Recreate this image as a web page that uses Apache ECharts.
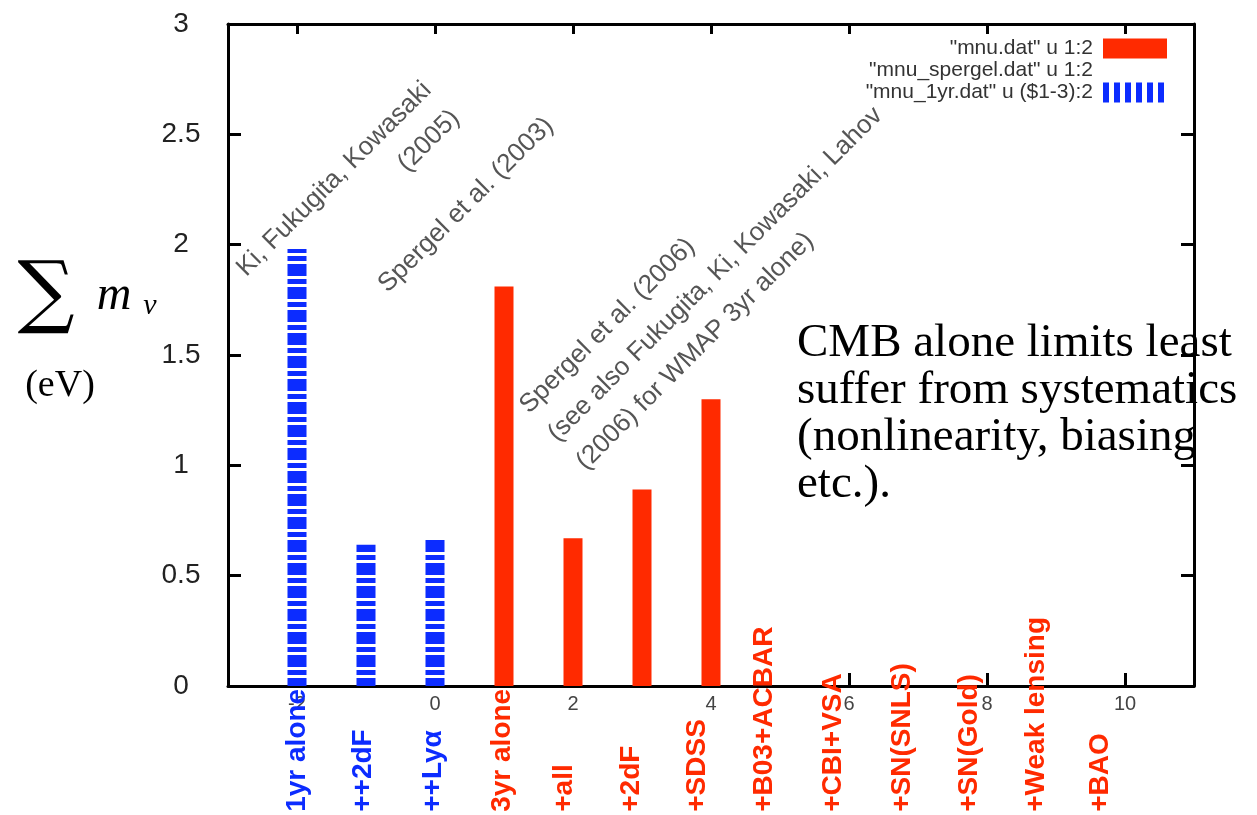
<!DOCTYPE html>
<html>
<head>
<meta charset="utf-8">
<title>Sum of neutrino masses</title>
<script src="https://cdn.jsdelivr.net/npm/echarts@6/dist/echarts.min.js"></script>
<style>
  html, body { margin: 0; padding: 0; background: #fff; }
  #chart { width: 1257px; height: 815px; }
</style>
</head>
<body>
<div id="chart"></div>
<script>
// values
const redX = [1, 2, 3, 4];
const redValues = [1.81, 0.67, 0.89, 1.3];
const blueX = [-2, -1, 0];
const blueValues = [1.98, 0.64, 0.67];

const xTicks = [-2, 0, 2, 4, 6, 8, 10];
const yTicks = [0, 0.5, 1, 1.5, 2, 2.5, 3];

const blueLabelX = [-2, -1.04, -0.03];
const blueLabels = ["1yr alone", "++2dF", "++Lyα"];
const redLabelX = [0.98, 1.88, 2.85, 3.8, 4.77, 5.77, 6.77, 7.74, 8.72, 9.64];
const redLabels = ["3yr alone", "+all", "+2dF", "+SDSS", "+B03+ACBAR", "+CBI+VSA",
  "+SN(SNLS)", "+SN(Gold)", "+Weak lensing", "+BAO"];

const seriesNames = ['"mnu.dat" u 1:2', '"mnu_spergel.dat" u 1:2', '"mnu_1yr.dat" u ($1-3):2'];

const RED = "#ff2a00";
const BLUE = "#0c2cff";
const LABEL_Y = -0.57; // where the rotated case labels start, below the axis

// striped fill like gnuplot's pattern
function stripes(w, h, fillRects) {
  const c = document.createElement("canvas");
  c.width = w;
  c.height = h;
  const ctx = c.getContext("2d");
  ctx.fillStyle = "#fff";
  ctx.fillRect(0, 0, w, h);
  ctx.fillStyle = BLUE;
  fillRects.forEach((r) => ctx.fillRect(r[0], r[1], r[2], r[3]));
  return c;
}
const barPattern = { image: stripes(4, 23, [[0, 3, 4, 5], [0, 11, 4, 12]]), repeat: "repeat" };
const legendPattern = { image: stripes(11, 4, [[0, 0, 6, 4]]), repeat: "repeat" };

const pairs = (xs, ys) => xs.map((x, i) => [x, ys[i]]);
const labelData = (xs, names) => xs.map((x, i) => ({ value: [x, LABEL_Y], name: names[i] }));

const caseLabel = (color) => ({
  show: true,
  formatter: "{b}",
  position: "inside",
  rotate: 90,
  align: "left",
  verticalAlign: "middle",
  color: color,
  opacity: 1,
  fontSize: 28,
  fontWeight: "bold",
  fontFamily: "Liberation Sans, Arial, sans-serif",
});

const annoFont = {
  fill: "#555",
  fontSize: 26,
  fontFamily: "Liberation Sans, Arial, sans-serif",
  lineHeight: 40,
};

const frame = { onZero: false, lineStyle: { color: "#000", width: 3 } };
const tickStyle = { color: "#000", width: 3 };

const chart = echarts.init(document.getElementById("chart"));
chart.setOption({
  backgroundColor: "#fff",
  animation: false,
  grid: { left: 228, right: 63, top: 24, bottom: 129 },
  legend: {
    orient: "vertical",
    right: 85,
    top: 33,
    align: "right",
    itemWidth: 64,
    itemHeight: 20,
    itemGap: 1,
    textStyle: { fontSize: 21, color: "#333", fontFamily: "Liberation Sans, Arial, sans-serif", padding: [0, 5, 0, 0] },
    data: [
      { name: seriesNames[0], icon: "rect" },
      { name: seriesNames[1], icon: "rect", itemStyle: { color: "rgba(0,0,0,0)" } },
      { name: seriesNames[2], icon: "rect", itemStyle: { color: legendPattern } },
    ],
  },
  xAxis: [
    {
      type: "value",
      min: -3,
      max: 11,
      axisLine: frame,
      axisTick: { inside: true, length: 13, customValues: xTicks, lineStyle: tickStyle },
      axisLabel: { customValues: xTicks, fontSize: 20, color: "#444", margin: 8, fontFamily: "Liberation Sans, Arial, sans-serif" },
      splitLine: { show: false },
    },
    {
      type: "value",
      position: "top",
      min: -3,
      max: 11,
      axisLine: frame,
      axisTick: { inside: true, length: 10, customValues: xTicks, lineStyle: tickStyle },
      axisLabel: { show: false },
      splitLine: { show: false },
    },
  ],
  yAxis: [
    {
      type: "value",
      min: 0,
      max: 3,
      interval: 0.5,
      axisLine: Object.assign({ show: true }, frame),
      axisTick: { show: true, inside: true, length: 13, lineStyle: tickStyle },
      axisLabel: {
        fontSize: 28,
        color: "#222",
        align: "center",
        margin: 47,
        fontFamily: "Liberation Sans, Arial, sans-serif",
        formatter: (v) => (yTicks.indexOf(v) >= 0 ? String(v) : ""),
      },
      splitLine: { show: false },
    },
    {
      type: "value",
      position: "right",
      min: 0,
      max: 3,
      interval: 0.5,
      axisLine: Object.assign({ show: true }, frame),
      axisTick: { show: true, inside: true, length: 13, lineStyle: tickStyle },
      axisLabel: { show: false },
      splitLine: { show: false },
    },
  ],
  series: [
    {
      name: seriesNames[0],
      type: "bar",
      barWidth: 19,
      barGap: "-100%",
      itemStyle: { color: RED },
      data: pairs(redX, redValues),
    },
    {
      name: seriesNames[1],
      type: "bar",
      barWidth: 19,
      barGap: "-100%",
      itemStyle: { color: "rgba(0,0,0,0)" },
      data: [],
    },
    {
      name: seriesNames[2],
      type: "bar",
      barWidth: 19,
      barGap: "-100%",
      itemStyle: { color: barPattern },
      data: pairs(blueX, blueValues),
    },
    {
      type: "scatter",
      symbolSize: 0,
      clip: false,
      silent: true,
      label: caseLabel(BLUE),
      data: labelData(blueLabelX, blueLabels),
    },
    {
      type: "scatter",
      symbolSize: 0,
      clip: false,
      silent: true,
      label: caseLabel(RED),
      data: labelData(redLabelX, redLabels),
    },
  ],
  graphic: [
    // y axis title
    { type: "text", x: 46, y: 297, style: { text: "∑", fill: "#000", fontSize: 80, fontFamily: "DejaVu Serif, Liberation Serif, serif", align: "center", verticalAlign: "middle" } },
    { type: "text", x: 114, y: 296, style: { text: "m", fill: "#000", fontSize: 48, fontStyle: "italic", fontFamily: "Liberation Serif, serif", align: "center", verticalAlign: "middle" } },
    { type: "text", x: 150, y: 306, style: { text: "ν", fill: "#000", fontSize: 30, fontStyle: "italic", fontFamily: "Liberation Serif, serif", align: "center", verticalAlign: "middle" } },
    { type: "text", x: 60, y: 386, style: { text: "(eV)", fill: "#000", fontSize: 38, fontFamily: "Liberation Serif, serif", align: "center", verticalAlign: "middle" } },
    // notes
    { type: "text", x: 413, y: 72, rotation: Math.PI / 4, style: Object.assign({ text: "Ki, Fukugita, Kowasaki\n(2005)", align: "right", verticalAlign: "top" }, annoFont) },
    { type: "text", x: 466, y: 205, rotation: Math.PI / 4, style: Object.assign({ text: "Spergel et al. (2003)", align: "center", verticalAlign: "middle" }, annoFont) },
    { type: "text", x: 510, y: 395, rotation: Math.PI / 4, style: Object.assign({ text: "Spergel et al. (2006)\n(see also Fukugita, Ki, Kowasaki, Lahov\n(2006) for WMAP 3yr alone)", align: "left", verticalAlign: "top" }, annoFont) },
    { type: "text", x: 797, y: 320, style: { text: "CMB alone limits least\nsuffer from systematics\n(nonlinearity, biasing\netc.).", fill: "#000", fontSize: 47, lineHeight: 47, fontFamily: "Liberation Serif, serif", align: "left", verticalAlign: "top" } },
  ],
});
</script>
</body>
</html>
